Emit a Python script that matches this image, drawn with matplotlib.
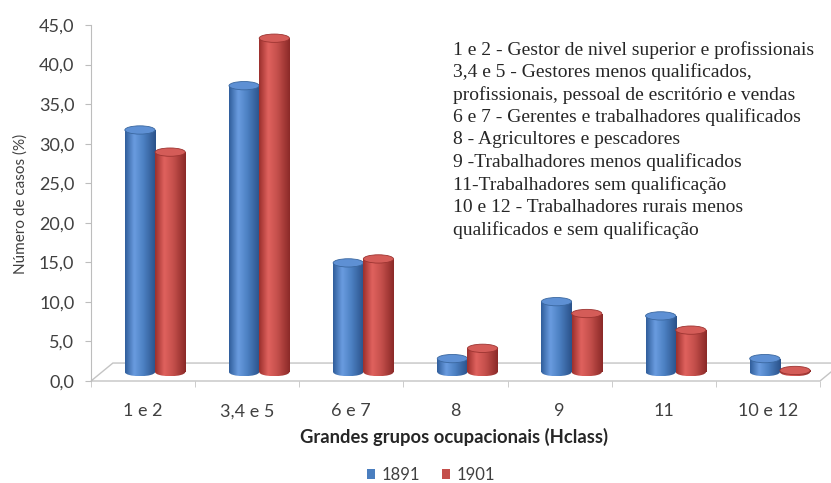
import numpy as np
import matplotlib
matplotlib.use("Agg")
import matplotlib.pyplot as plt
from matplotlib.patches import Ellipse, Polygon, Patch
from matplotlib.colors import LinearSegmentedColormap

categories = ["1 e 2", "3,4 e 5", "6 e 7", "8", "9", "11", "10 e 12"]
years = ["1891", "1901"]
v1891 = [30.6, 36.2, 13.8, 1.7, 8.9, 7.1, 1.7]
v1901 = [27.8, 42.2, 14.3, 3.0, 7.4, 5.3, 0.2]
y_ticks = [0, 5, 10, 15, 20, 25, 30, 35, 40, 45]
y_labels = ["0,0", "5,0", "10,0", "15,0", "20,0", "25,0", "30,0", "35,0", "40,0", "45,0"]
notes = [
    "1 e 2 - Gestor de nivel superior e profissionais",
    "3,4 e 5 - Gestores menos qualificados,",
    "profissionais, pessoal de escritório e vendas",
    "6 e 7 - Gerentes e trabalhadores qualificados",
    "8 - Agricultores e pescadores",
    "9 -Trabalhadores menos qualificados",
    "11-Trabalhadores sem qualificação",
    "10 e 12 - Trabalhadores rurais menos",
    "qualificados e sem qualificação",
]

W, H = 831, 483
BASE = 1.13       # bars stand in the middle of the floor depth
DEPTH = 2.27      # floor depth in y units
SHIFT = 0.21      # floor depth in x units
OFF = 0.115
BW = 0.29
EH = 1.05         # ellipse height of cylinder caps

blue_cmap = LinearSegmentedColormap.from_list(
    "b", [(0, "#2f5d9a"), (0.3, "#6a9ce0"), (0.6, "#4c80c2"), (1, "#2a5189")])
red_cmap = LinearSegmentedColormap.from_list(
    "r", [(0, "#9a2f2c"), (0.3, "#e0625e"), (0.6, "#c44f4b"), (1, "#8a2927")])
grad = np.linspace(0, 1, 256).reshape(1, -1)

fig = plt.figure(figsize=(W / 100, H / 100), dpi=100)
ax = fig.add_axes([91 / W, 102 / H, 729 / W, 356 / H])
ax.set_facecolor("none")

floor = Polygon([(-0.5, 0), (6.5, 0), (6.5 + SHIFT, DEPTH), (-0.5 + SHIFT, DEPTH)],
                closed=True, facecolor="white", edgecolor="#c4c4c4", lw=1.0,
                zorder=1, clip_on=False)
ax.add_patch(floor)


def cylinder(bar, cmap, top_color, edge_color, z):
    x0, y0 = bar.get_x(), bar.get_y()
    w, h = bar.get_width(), bar.get_height()
    im = ax.imshow(grad, extent=[x0, x0 + w, y0, y0 + h], cmap=cmap,
                   aspect="auto", zorder=z, interpolation="bicubic")
    im.set_clip_path(bar)
    bot = Ellipse((x0 + w / 2, y0), w, EH, fill=False, lw=0)
    ax.add_patch(bot)
    im2 = ax.imshow(grad, extent=[x0, x0 + w, y0 - EH / 2, y0 + EH / 2], cmap=cmap,
                    aspect="auto", zorder=z - 0.05, interpolation="bicubic")
    im2.set_clip_path(bot)
    ax.add_patch(Ellipse((x0 + w / 2, y0 + h), w, EH, facecolor=top_color,
                         edgecolor=edge_color, lw=0.6, zorder=z + 0.1))


x = np.arange(len(categories))
bars_b = ax.bar(x + OFF - BW / 2, v1891, BW, bottom=BASE, color="#4a7ebf", lw=0, zorder=3)
bars_r = ax.bar(x + OFF + BW / 2, v1901, BW, bottom=BASE, color="#c44f4b", lw=0, zorder=4)
for b in bars_b:
    cylinder(b, blue_cmap, "#5e90d4", "#3a679f", 3)
for b in bars_r:
    cylinder(b, red_cmap, "#d45c58", "#9c3431", 4)

ax.set_xlim(-0.5, 6.5)
ax.set_ylim(0, 45)

for s in ["top", "right", "bottom"]:
    ax.spines[s].set_visible(False)
ax.spines["left"].set_color("#bdbdbd")

ax.set_yticks(y_ticks)
ax.set_yticklabels(y_labels)
ax.tick_params(axis="y", length=4, color="#bdbdbd", pad=8,
               labelsize=13, labelcolor="#404040")
ax.set_xticks(x)
ax.set_xticklabels(categories)
ax.set_xticks(np.arange(-0.5, 7, 1), minor=True)
ax.tick_params(axis="x", which="major", length=0, pad=16,
               labelsize=13, labelcolor="#404040")
ax.tick_params(axis="x", which="minor", length=4, color="#c4c4c4")
for lab in ax.get_xticklabels() + ax.get_yticklabels():
    lab.set_fontfamily("Lato")

ax.set_xlabel("Grandes grupos ocupacionais (Hclass)", fontsize=13.2, fontweight="bold",
              family="Lato", color="#262626", va="center")
ax.xaxis.set_label_coords((454 - 91) / 729, (381 - 437) / 356)
ax.set_ylabel("Número de casos (%)", fontsize=11, family="Lato", color="#404040",
              va="center", ha="center")
ax.yaxis.set_label_coords((21 - 91) / 729, (381 - 204) / 356)

for i, line in enumerate(notes):
    fig.text(453 / W, 1 - (48 + 22.5 * i) / H, line, family="Liberation Serif",
             fontsize=14, color="#262626", va="center_baseline", ha="left")

handles = [Patch(facecolor="#4a7ebf"), Patch(facecolor="#c44f4b")]
fig.legend(handles, years, loc="center", bbox_to_anchor=(431 / W, 1 - 475 / H),
           ncol=2, frameon=False, handlelength=0.5, handleheight=0.5,
           handletextpad=0.4, columnspacing=1.3, prop={"family": "Lato", "size": 12},
           labelcolor="#404040")

fig.savefig("out.png", dpi=100)
